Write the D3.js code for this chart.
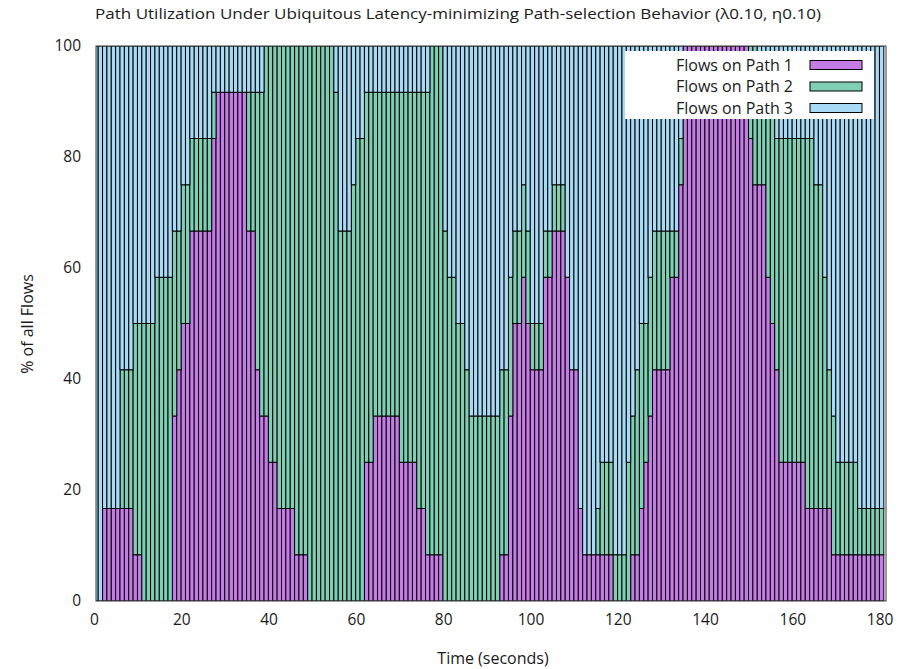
<!DOCTYPE html>
<html><head><meta charset="utf-8">
<script src="https://cdn.jsdelivr.net/npm/d3@7"></script>
<style>
body{margin:0;background:#fff;}
svg{display:block;}
text{font-family:"Open Sans","DejaVu Sans",sans-serif;fill:#1a1a1a;}
</style>
</head><body>
<svg id="chart" width="918" height="669"></svg>
<script>
// ---- data (flows per path, out of 12 flows, one bar per second) ----
const seconds = [
  0,1,2,3,4,5,6,7,8,9, 10,11,12,13,14,15,16,17,18,19,
  20,21,22,23,24,25,26,27,28,29, 30,31,32,33,34,35,36,37,38,39,
  40,41,42,43,44,45,46,47,48,49, 50,51,52,53,54,55,56,57,58,59,
  60,61,62,63,64,65,66,67,68,69, 70,71,72,73,74,75,76,77,78,79,
  80,81,82,83,84,85,86,87,88,89, 90,91,92,93,94,95,96,97,98,99,
  100,101,102,103,104,105,106,107,108,109, 110,111,112,113,114,115,116,117,118,119,
  120,121,122,123,124,125,126,127,128,129, 130,131,132,133,134,135,136,137,138,139,
  140,141,142,143,144,145,146,147,148,149, 150,151,152,153,154,155,156,157,158,159,
  160,161,162,163,164,165,166,167,168,169, 170,171,172,173,174,175,176,177,178,179,
  180
];
const flowsPath1 = [
  0,0,2,2,2,2,2,2,2,1,  1,0,0,0,0,0,0,0,4,5,
  6,6,8,8,8,8,8,10,11,11,  11,11,11,11,11,8,8,5,4,4,
  3,3,2,2,2,2,1,1,1,0,  0,0,0,0,0,0,0,0,0,0,
  0,0,3,3,4,4,4,4,4,4,  3,3,3,3,2,2,1,1,1,1,
  0,0,0,0,0,0,0,0,0,0,  0,0,0,1,1,4,6,6,7,6,
  5,5,5,7,7,8,8,8,7,5,  5,2,1,1,1,1,1,1,1,0,
  0,0,0,1,1,2,3,4,5,5,  5,5,7,7,9,12,12,12,12,12,
  12,12,12,12,12,12,12,12,12,12,  10,9,9,9,7,6,5,3,3,3,
  3,3,3,2,2,2,2,2,2,1,  1,1,1,1,1,1,1,1,1,1,
  1
];
const flowsPath2 = [
  0,0,0,0,0,0,3,3,3,5,  5,6,6,6,7,7,7,7,4,3,
  3,3,2,2,2,2,2,1,0,0,  0,0,0,0,0,3,3,6,7,8,
  9,9,10,10,10,10,11,11,11,12,  12,12,12,12,12,11,8,8,8,9,
  10,10,8,8,7,7,7,7,7,7,  8,8,8,8,9,9,10,11,11,11,
  8,7,7,6,6,5,4,4,4,4,  4,4,4,4,4,3,2,2,2,2,
  1,1,1,1,1,1,1,1,0,0,  0,0,0,0,0,1,2,2,2,1,
  1,1,3,3,4,4,3,3,3,3,  3,3,1,1,1,0,0,0,0,0,
  0,0,0,0,0,0,0,0,0,0,  2,3,2,2,4,5,5,7,7,7,
  7,7,7,8,8,7,7,5,3,3,  2,2,2,2,2,1,1,1,1,1,
  1
];
const totalFlows = 12;
const seriesNames = ["Flows on Path 1", "Flows on Path 2", "Flows on Path 3"];
const xTickValues = [0, 20, 40, 60, 80, 100, 120, 140, 160, 180];
const yTickValues = [0, 20, 40, 60, 80, 100];
const titleText = "Path Utilization Under Ubiquitous Latency-minimizing Path-selection Behavior (\u03bb0.10, \u03b70.10)";
const xLabel = "Time (seconds)";
const yLabel = "% of all Flows";

// ---- styles ----
const colors = ["#c67ce6", "#7ecfb4", "#a7daf4"];
const plot = {left: 96, right: 886, top: 46, bottom: 601};

const svg = d3.select("#chart");
const x = d3.scaleLinear().domain([0, 181]).range([plot.left, plot.right]);
const y = d3.scaleLinear().domain([0, 100]).range([plot.bottom, plot.top]);

const flowsPath3 = seconds.map((_, i) => totalFlows - flowsPath1[i] - flowsPath2[i]);
const rows = seconds.map((t, i) => ({
  t,
  p1: flowsPath1[i] / totalFlows * 100,
  p2: flowsPath2[i] / totalFlows * 100,
  p3: flowsPath3[i] / totalFlows * 100
}));
const stack = d3.stack().keys(["p1", "p2", "p3"])(rows);

svg.append("defs").append("clipPath").attr("id", "clip")
  .append("rect").attr("x", plot.left).attr("y", plot.top)
  .attr("width", plot.right - plot.left).attr("height", plot.bottom - plot.top);

const g = svg.append("g").attr("clip-path", "url(#clip)");
stack.forEach((layer, li) => {
  g.append("g").selectAll("rect")
    .data(layer.filter(d => d[1] - d[0] > 0))
    .join("rect")
    .attr("x", d => x(d.data.t - 0.5))
    .attr("width", d => x(d.data.t + 0.5) - x(d.data.t - 0.5))
    .attr("y", d => y(d[1]))
    .attr("height", d => y(d[0]) - y(d[1]))
    .attr("fill", colors[li])
    .attr("stroke", "#000")
    .attr("stroke-width", 1);
});

// border
svg.append("rect")
  .attr("x", plot.left).attr("y", plot.top)
  .attr("width", plot.right - plot.left).attr("height", plot.bottom - plot.top)
  .attr("fill", "none").attr("stroke", "#3a3a3a").attr("stroke-width", 1);

// axes (labels only, like gnuplot)
const xAxis = d3.axisBottom(x).tickValues(xTickValues).tickSize(0).tickPadding(13).tickFormat(d3.format("d"));
const xg = svg.append("g").attr("transform", `translate(-2,${plot.bottom})`).call(xAxis);
xg.select(".domain").remove();
xg.selectAll("text").attr("font-size", 15.5).attr("font-family", "Open Sans").attr("fill", "#1a1a1a");

const yAxis = d3.axisLeft(y).tickValues(yTickValues).tickSize(0).tickPadding(15).tickFormat(d3.format("d"));
const yg = svg.append("g").attr("transform", `translate(${plot.left},0)`).call(yAxis);
yg.select(".domain").remove();
yg.selectAll("text").attr("font-size", 15.5).attr("font-family", "Open Sans").attr("fill", "#1a1a1a");

// titles
svg.append("text").attr("x", 458).attr("y", 19).attr("text-anchor", "middle")
  .attr("font-size", 15).attr("textLength", 726).attr("lengthAdjust", "spacingAndGlyphs")
  .text(titleText);
svg.append("text").attr("x", 493).attr("y", 664).attr("text-anchor", "middle")
  .attr("font-size", 16).text(xLabel);
svg.append("text").attr("transform", "translate(33,324) rotate(-90)").attr("text-anchor", "middle")
  .attr("font-size", 16).text(yLabel);

// legend
const lg = svg.append("g");
lg.append("rect").attr("x", 625).attr("y", 51).attr("width", 249).attr("height", 68).attr("fill", "#fff");
seriesNames.forEach((name, i) => {
  const cy = 65 + i * 21.5;
  lg.append("text").attr("x", 793).attr("y", cy + 5.5).attr("text-anchor", "end")
    .attr("font-size", 16).text(name);
  lg.append("rect").attr("x", 810).attr("y", cy - 4.5).attr("width", 52).attr("height", 9)
    .attr("fill", colors[i]).attr("stroke", "#000").attr("stroke-width", 1);
});
</script>
</body></html>
